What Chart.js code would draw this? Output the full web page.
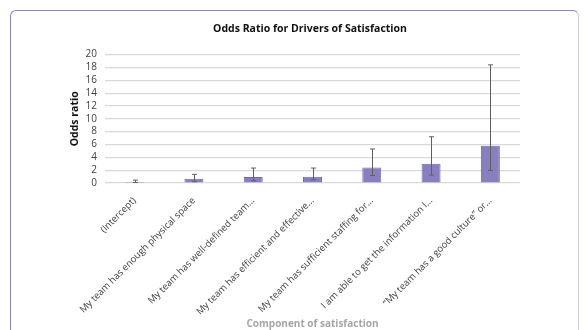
<!DOCTYPE html>
<html>
<head>
<meta charset="utf-8">
<script src="https://cdn.jsdelivr.net/npm/chart.js@4"></script>
<style>
  html, body { margin: 0; padding: 0; background: #fff; }
  .wrap { position: relative; width: 587px; height: 330px; overflow: hidden; }
  .frame {
    position: absolute; left: 10px; top: 10px; width: 569px; height: 340px;
    border: 1.5px solid; border-color: #8d86c2 #cdc9df #cdc9df #8d86c2;
    border-radius: 6px; box-sizing: border-box;
  }
  canvas { position: absolute; left: 0; top: 0; }
</style>
</head>
<body>
<div class="wrap">
  <div class="frame"></div>
  <canvas id="chart" width="587" height="330"></canvas>
</div>
<script>
// categories (labels are truncated in the original chart)
const components = [
  '(Intercept)',
  'My team has enough physical space',
  'My team has well-defined team...',
  'My team has efficient and effective...',
  'My team has sufficient staffing for...',
  'I am able to get the information I...',
  '\u201cMy team has a good culture\u201d or...'
];
const oddsRatio = [0.15, 0.65, 0.92, 0.97, 2.43, 3.0, 5.8];
const ciLower = [0.08, 0.2, 0.34, 0.5, 1.18, 1.23, 1.96];
const ciUpper = [0.45, 1.35, 2.33, 2.33, 5.3, 7.2, 18.4];
const yTicks = [0, 2, 4, 6, 8, 10, 12, 14, 16, 18, 20];

const font = "'Open Sans', 'DejaVu Sans', sans-serif";

// draws the confidence interval whiskers on top of the bars
const errorBars = {
  id: 'errorBars',
  afterDatasetsDraw(chart) {
    const ctx = chart.ctx;
    const y = chart.scales.y;
    const meta = chart.getDatasetMeta(0);
    ctx.save();
    ctx.strokeStyle = '#5f5f5f';
    ctx.lineWidth = 1;
    meta.data.forEach((bar, i) => {
      const x = Math.round(bar.x) + 0.5;
      const top = y.getPixelForValue(ciUpper[i]);
      const bottom = y.getPixelForValue(ciLower[i]);
      ctx.beginPath();
      ctx.moveTo(x, top); ctx.lineTo(x, bottom);
      ctx.moveTo(x - 2.5, top); ctx.lineTo(x + 2.5, top);
      ctx.moveTo(x - 2.5, bottom); ctx.lineTo(x + 2.5, bottom);
      ctx.stroke();
    });
    ctx.restore();
  }
};

new Chart(document.getElementById('chart'), {
  type: 'bar',
  data: {
    labels: components,
    datasets: [{
      label: 'Odds ratio',
      data: oddsRatio,
      backgroundColor: '#8880be',
      borderColor: '#7068ab',
      borderWidth: 1,
      barPercentage: 1,
      categoryPercentage: 0.32
    }]
  },
  options: {
    responsive: false,
    animation: false,
    layout: { padding: { left: 43, right: 10, top: 18, bottom: 0 } },
    scales: {
      x: {
        grid: { display: false },
        border: { display: false },
        ticks: {
          minRotation: 45, maxRotation: 45, autoSkip: false, padding: 4,
          color: '#404040', font: { family: font, size: 9.5 }
        },
        title: {
          display: true, text: 'Component of satisfaction',
          color: '#a6a6a6', font: { family: font, size: 10, weight: 'bold' },
          padding: { top: 0, bottom: 0 }
        },
        afterFit(scale) { scale.height = 147; }
      },
      y: {
        min: 0, max: 20,
        afterBuildTicks(scale) { scale.ticks = yTicks.map(v => ({ value: v })); },
        grid: { color: '#d9d9d9', lineWidth: 1.2, drawTicks: false },
        border: { display: false },
        ticks: { autoSkip: false, color: '#404040', padding: 8, font: { family: font, size: 10 } },
        title: {
          display: true, text: 'Odds ratio',
          color: '#111', font: { family: font, size: 10.5, weight: 'bold' },
          padding: { top: 26, bottom: 0 }
        },
        afterFit(scale) { scale.width = 62; }
      },
      yRight: {
        position: 'right',
        display: true,
        grid: { display: false },
        border: { display: false },
        ticks: { display: false },
        afterFit(scale) { scale.width = 57; }
      }
    },
    plugins: {
      legend: { display: false },
      tooltip: { enabled: false },
      title: {
        display: true, text: 'Odds Ratio for Drivers of Satisfaction',
        color: '#111', font: { family: font, size: 10.5, weight: 'bold' },
        padding: { top: 5, bottom: 19 }
      }
    }
  },
  plugins: [errorBars]
});
</script>
</body>
</html>
